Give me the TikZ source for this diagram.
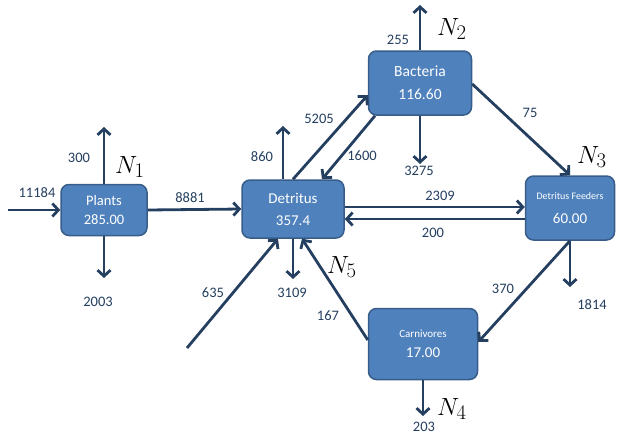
\documentclass[tikz,border=0pt]{standalone}
\usepackage{fontspec}
\setmainfont{Carlito}
\usetikzlibrary{arrows.meta}
\definecolor{boxblue}{HTML}{4F81BD}
\definecolor{boxedge}{HTML}{385D8A}
\definecolor{navy}{HTML}{243F60}

\begin{document}
\begin{tikzpicture}[x=1pt,y=-1pt]
	\tikzset{fwnode/.style={draw=boxedge, fill=boxblue, line width=1.5pt,
				rounded corners=8pt, text=white, align=center, inner sep=0pt}}
	\tikzset{fwline/.style={draw=navy, line width=2.8pt,
				-{Straight Barb[length=6pt,width=13pt]}}}
	\tikzset{fwlabel/.style={text=navy, inner sep=0pt,
				font=\fontsize{14.5}{16}\selectfont}}
	\tikzset{nlabel/.style={anchor=base west, inner sep=0pt,
				font=\fontsize{32}{35}\selectfont}}

	\useasboundingbox (0,0) rectangle (617,436);

	% compartments
	\node[fwnode, minimum width=86pt, minimum height=51pt,
		font=\fontsize{14.5}{19}\selectfont] (pl) at (104,210) {Plants\\285.00};
	\node[fwnode, minimum width=102pt, minimum height=58pt,
		font=\fontsize{15}{22}\selectfont] (det) at (293,209) {Detritus\\357.4};
	\node[fwnode, minimum width=103pt, minimum height=64pt,
		font=\fontsize{15.5}{23}\selectfont] (bac) at (420,83) {Bacteria\\116.60};
	\node[fwnode, minimum width=89pt, minimum height=64pt,
		font=\fontsize{15}{24}\selectfont] (df) at (570,208)
		{{\fontsize{10}{11}\selectfont Detritus Feeders}\\60.00};
	\node[fwnode, minimum width=109pt, minimum height=71pt,
		font=\fontsize{15}{20}\selectfont] (carn) at (423,344)
		{{\fontsize{11}{12}\selectfont Carnivores}\\17.00};

	% free ends
	\coordinate (in1) at (8,210);
	\coordinate (plup) at (104,127);
	\coordinate (pldn) at (104,278);
	\coordinate (detup) at (283,126);
	\coordinate (in2) at (187,348);
	\coordinate (detdn) at (293,279);
	\coordinate (bacup) at (420,5);
	\coordinate (bacdn) at (420,164);
	\coordinate (dfdn) at (570,287);
	\coordinate (carndn) at (423,416);

	% flows
	\draw[fwline] (in1) -- (pl.west);
	\draw[fwline] (pl.north) -- (plup);
	\draw[fwline] (pl.south) -- (pldn);
	\draw[fwline] (pl.east) -- (det.west);
	\draw[fwline] ([xshift=-10pt]det.north) -- (detup);
	\draw[fwline] (det.north) -- ([yshift=-12pt]bac.west);
	\draw[fwline] ([xshift=-45pt]bac.south) -- ([xshift=29pt]det.north);
	\draw[fwline] (bac.north) -- (bacup);
	\draw[fwline] (bac.south) -- (bacdn);
	\draw[fwline] ([yshift=-1pt]bac.east) -- (df.north);
	\draw[fwline] ([yshift=2pt]det.east) -- ([yshift=1pt]df.west);
	\draw[fwline] ([yshift=-11pt]df.west) -- ([yshift=-10pt]det.east);
	\draw[fwline] (df.south) -- (dfdn);
	\draw[fwline] (df.south) -- ([yshift=2pt]carn.east);
	\draw[fwline] ([yshift=4pt]carn.west) -- ([xshift=9pt]det.south);
	\draw[fwline] (in2) -- ([xshift=-15pt]det.south);
	\draw[fwline] (det.south) -- (detdn);
	\draw[fwline] (carn.south) -- (carndn);

	% flow values
	\node[fwlabel] (l11184) at (37,193) {11184};
	\node[fwlabel] (l300) at (79,158) {300};
	\node[fwlabel] (l8881) at (190,198) {8881};
	\node[fwlabel] (l2003) at (98,302) {2003};
	\node[fwlabel] (l635) at (213,293) {635};
	\node[fwlabel] (l860) at (262,157) {860};
	\node[fwlabel] (l5205) at (319,119) {5205};
	\node[fwlabel] (l1600) at (362,156) {1600};
	\node[fwlabel] (l255) at (398,40) {255};
	\node[fwlabel] (l3275) at (419,171) {3275};
	\node[fwlabel] (l2309) at (440,196) {2309};
	\node[fwlabel] (l200) at (433,233) {200};
	\node[fwlabel] (l75) at (530,113) {75};
	\node[fwlabel] (l1814) at (592,305) {1814};
	\node[fwlabel] (l370) at (503,289) {370};
	\node[fwlabel] (l3109) at (292,293) {3109};
	\node[fwlabel] (l167) at (328,316) {167};
	\node[fwlabel] (l203) at (424,427) {203};

	% compartment indices
	\node[nlabel] (n1) at (115,173) {$N_1$};
	\node[nlabel] (n2) at (437,35) {$N_2$};
	\node[nlabel] (n3) at (577,163) {$N_3$};
	\node[nlabel] (n4) at (437,415) {$N_4$};
	\node[nlabel] (n5) at (327,273) {$N_5$};
\end{tikzpicture}
\end{document}
